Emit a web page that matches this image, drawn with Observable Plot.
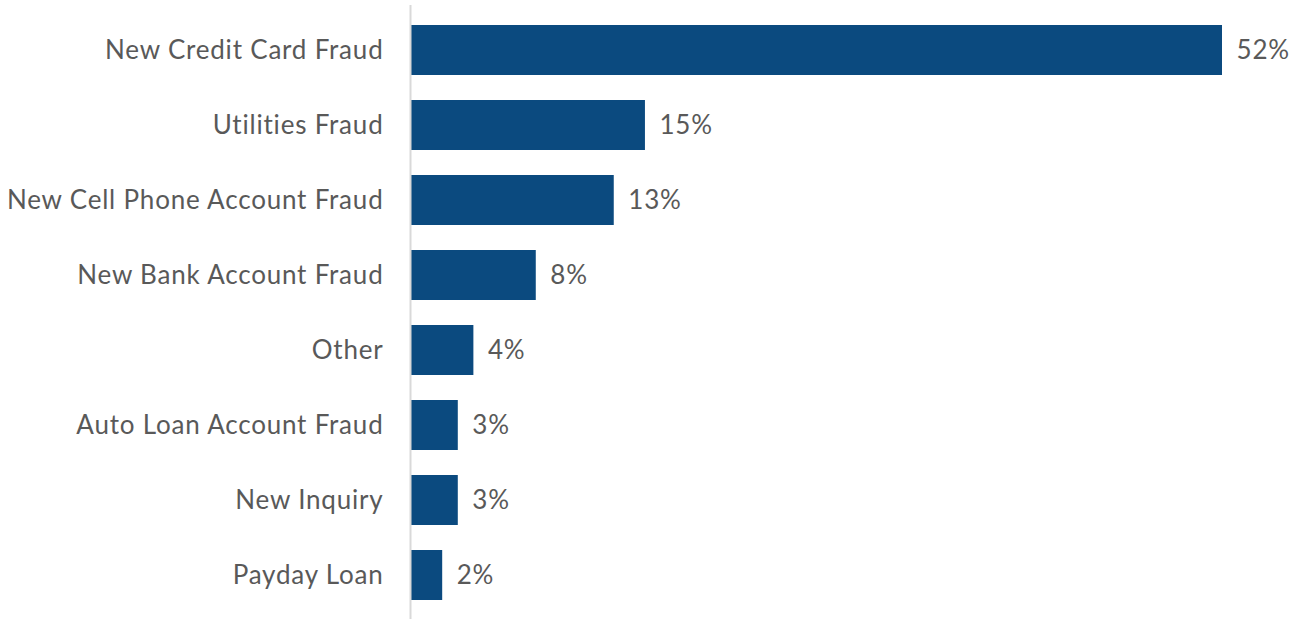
<!DOCTYPE html>
<html>
<head>
<meta charset="utf-8">
<script src="https://cdn.jsdelivr.net/npm/d3@7"></script>
<script src="https://cdn.jsdelivr.net/npm/@observablehq/plot@0.6"></script>
<style>
  html, body { margin: 0; padding: 0; background: #fff; }
  #chart svg { display: block; }
  #chart svg text { letter-spacing: 0.8px; }
</style>
</head>
<body>
<div id="chart"></div>
<script>
const categories = ["New Credit Card Fraud", "Utilities Fraud", "New Cell Phone Account Fraud", "New Bank Account Fraud", "Other", "Auto Loan Account Fraud", "New Inquiry", "Payday Loan"];
const values = [52, 15, 13, 8, 4, 3, 3, 2];
const data = categories.map((c, i) => ({category: c, value: values[i]}));

const chart = Plot.plot({
  width: 1302,
  height: 619,
  marginLeft: 411,
  marginRight: 80,
  marginTop: 12.5,
  marginBottom: 6.5,
  style: {fontFamily: "Lato, 'Open Sans', sans-serif", fontSize: "26px", color: "#595959", background: "#fff"},
  x: {domain: [0, 52], axis: null},
  y: {domain: categories, paddingInner: 1/3, paddingOuter: 1/6, label: null, tickSize: 0, tickPadding: 28},
  marks: [
    Plot.barX(data, {x: "value", y: "category", fill: "#0b4a7f"}),
    Plot.text(data, {x: "value", y: "category", text: d => d.value + "%", textAnchor: "start", dx: 14, fill: "#595959", fontSize: 26}),
    Plot.ruleX([0], {stroke: "#d9d9d9", strokeWidth: 2, dx: -1, insetTop: -7.5, insetBottom: -6.5})
  ]
});
document.getElementById("chart").appendChild(chart);
</script>
</body>
</html>
